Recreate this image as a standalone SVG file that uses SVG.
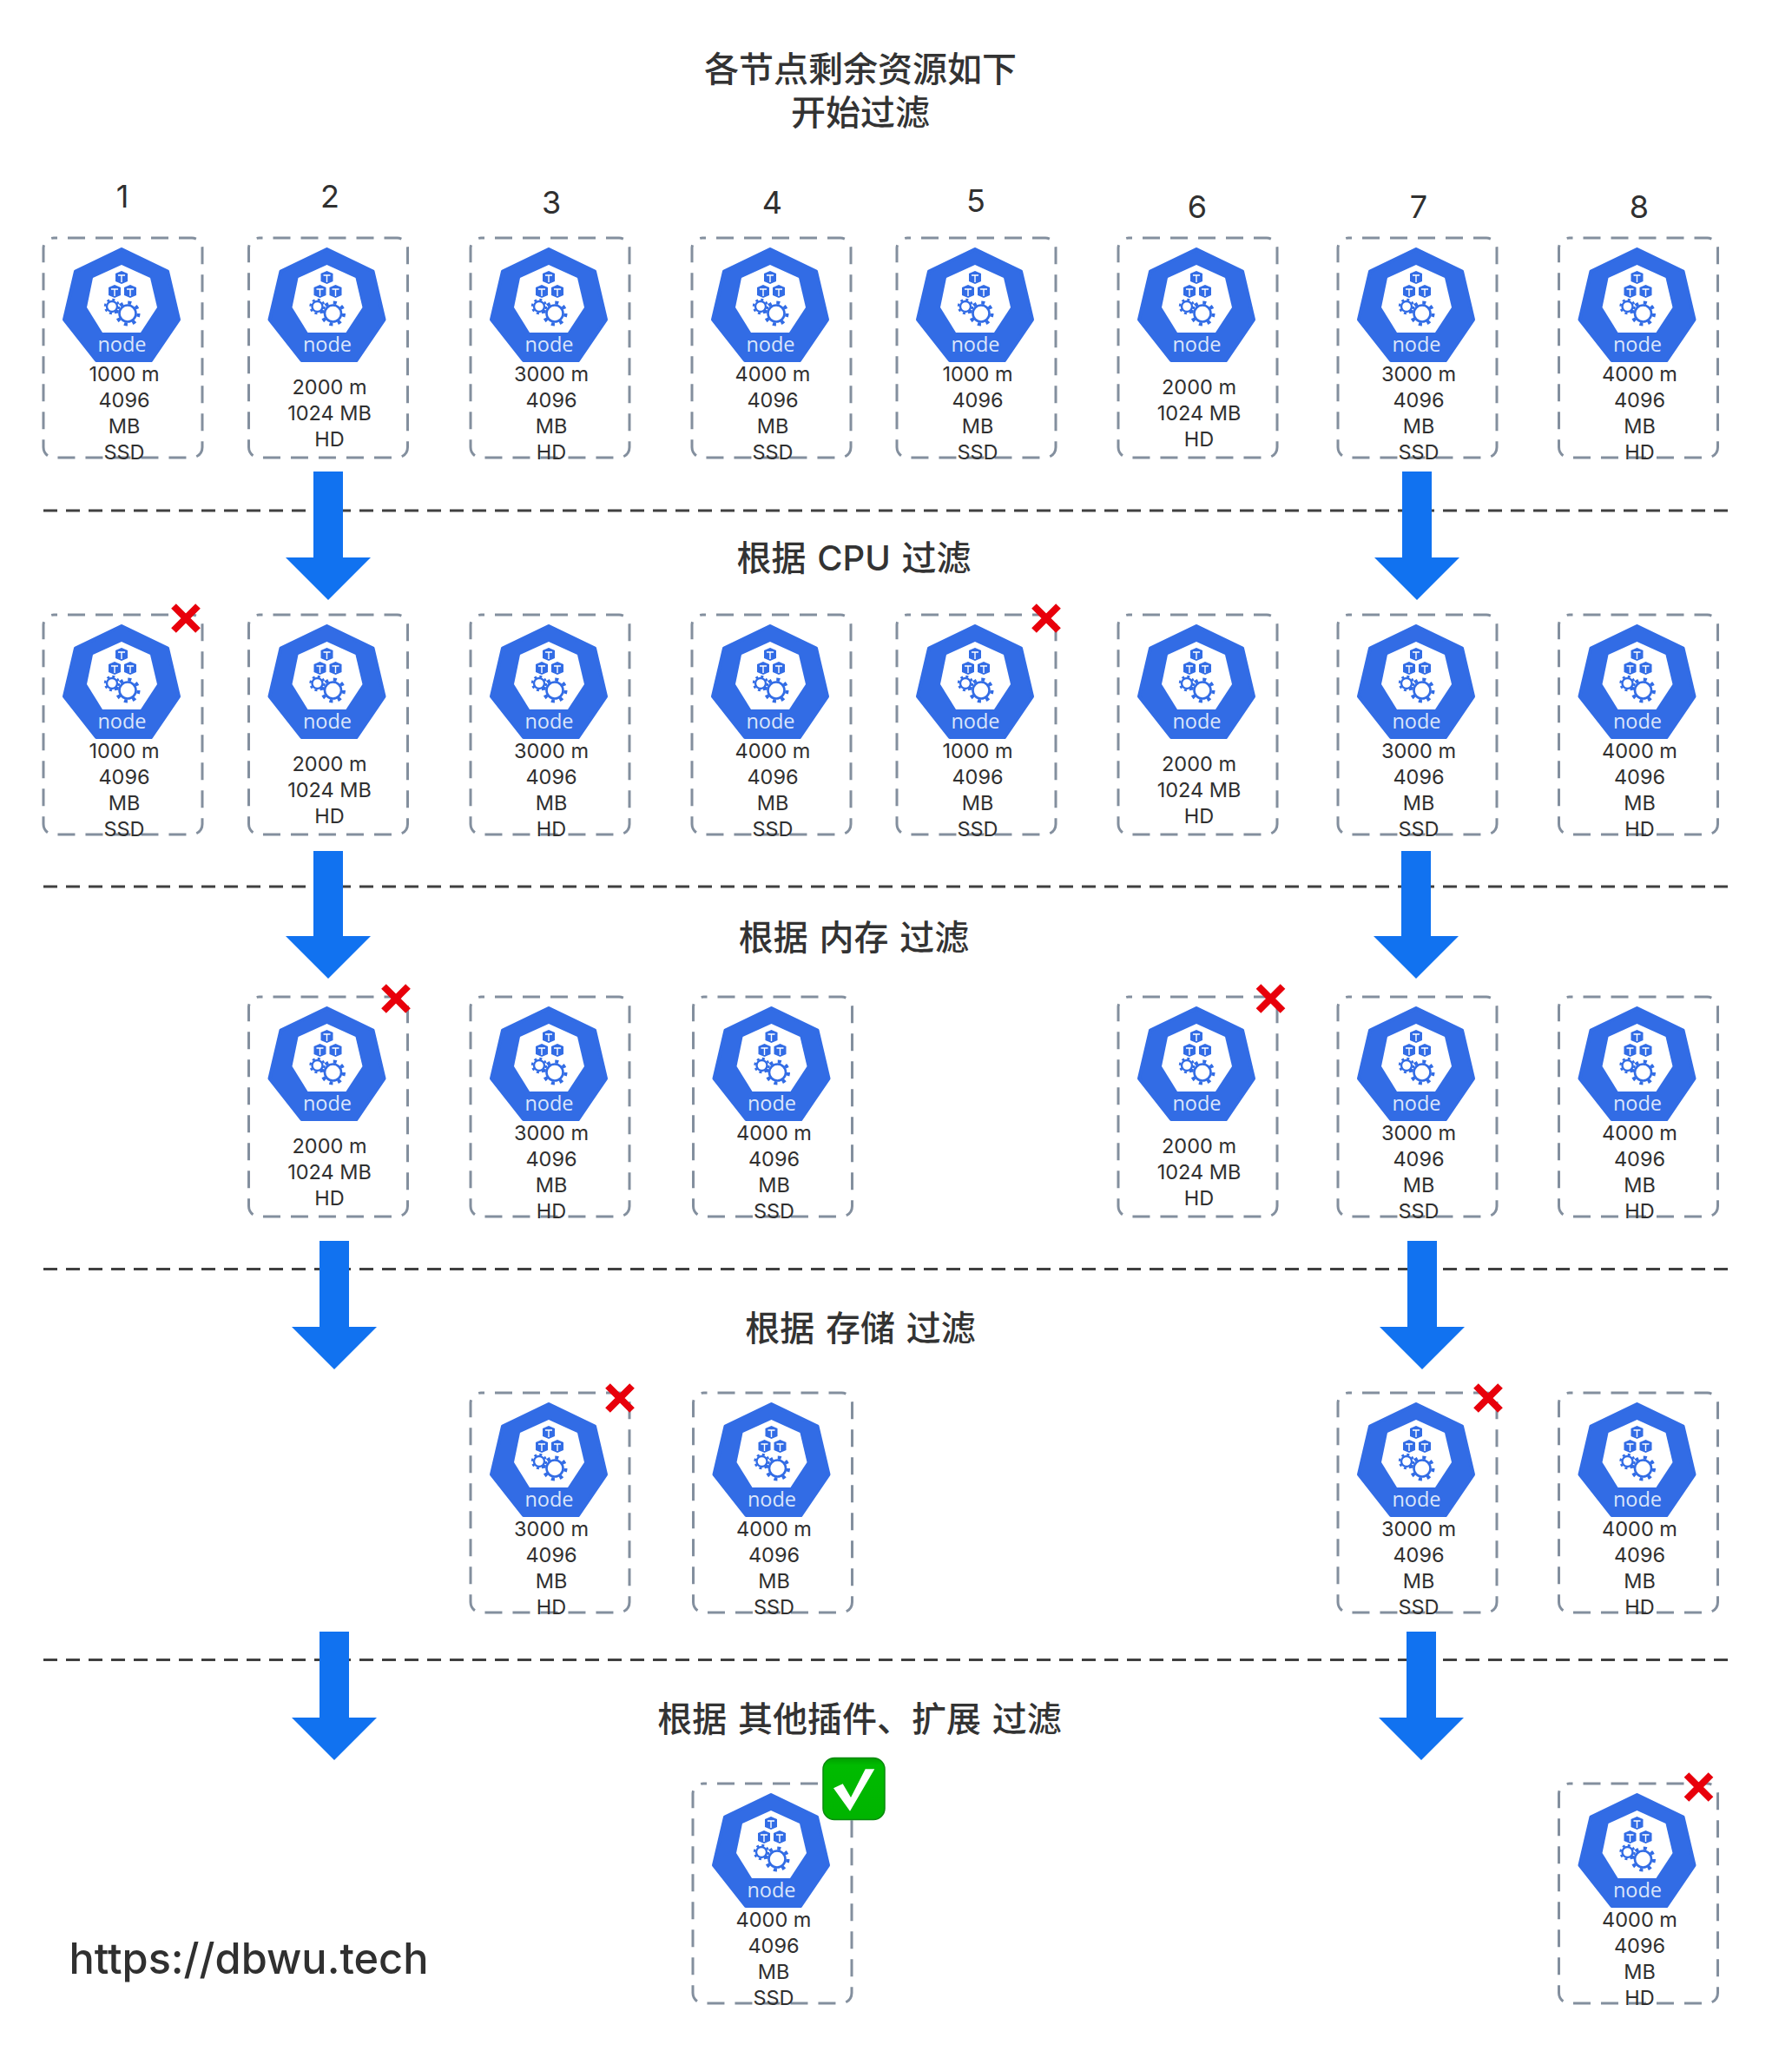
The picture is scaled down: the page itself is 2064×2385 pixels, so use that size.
<svg xmlns="http://www.w3.org/2000/svg" width="2064" height="2385" viewBox="0 0 2064 2385">
<style>
text{font-family:"Inter","Liberation Sans","Noto Sans CJK SC",sans-serif;fill:#303030;text-anchor:middle}
.box{fill:none;stroke:#838f9e;stroke-width:3;stroke-dasharray:20 12;stroke-dashoffset:16}
.t{font-size:23.5px}
.ic{font-family:"Open Sans",sans-serif;font-size:23.5px;fill:#dbe6fb}
.n{font-size:36px}
.h{font-size:40px;font-family:"Inter","Noto Sans CJK SC Medium","Noto Sans CJK SC",sans-serif;font-weight:500;fill:#333}
.sep{fill:none;stroke:#404040;stroke-width:3;stroke-dasharray:16 10}
.arr{fill:#1172f0}
.x{fill:none;stroke:#e8000b;stroke-width:8}
</style>
<defs>
<linearGradient id="ok" x1="0" y1="0" x2="0" y2="1"><stop offset="0" stop-color="#00a000"/><stop offset="0.12" stop-color="#00bb00"/><stop offset="1" stop-color="#00b400"/></linearGradient>
<g id="icon">
<polygon points="90,13 143,38.5 156,94 124,141 61,141 24,94 37,38.5" fill="#326ce5" stroke="#326ce5" stroke-width="4" stroke-linejoin="round"/>
<polygon points="90,31 123,46 131,80 112,109 68,109 50,80 57,46" fill="#fff"/>
<g fill="#326ce5">
<polygon points="90,38 97,41 97,50 90,53 83,50 83,41"/>
<polygon points="82,54 89,57 89,66 82,69 75,66 75,57"/>
<polygon points="100,54 107,57 107,66 100,69 93,66 93,57"/>
</g>
<path d="M86 43h8M90 43v8M78 59h8M82 59v8M96 59h8M100 59v8" stroke="#fff" stroke-width="1.4" fill="none"/>
<circle cx="79" cy="79" r="6" fill="#fff" stroke="#326ce5" stroke-width="2.4"/>
<circle cx="79" cy="79" r="8" fill="none" stroke="#326ce5" stroke-width="2.4" stroke-dasharray="3 3.3"/>
<circle cx="97" cy="87" r="9.5" fill="#fff" stroke="#326ce5" stroke-width="2.6"/>
<circle cx="97" cy="87" r="12.5" fill="none" stroke="#326ce5" stroke-width="4" stroke-dasharray="4 5.8"/>
</g>
<g id="xm"><path class="x" d="M-14,-14L14,14M14,-14L-14,14"/></g>
</defs>
<rect width="2064" height="2385" fill="#fff"/>
<g id="headings">
<text class="h" x="991" y="94">各节点剩余资源如下</text>
<text class="h" x="991" y="144">开始过滤</text>
<text class="n" x="141" y="239">1</text>
<text class="n" x="380" y="239">2</text>
<text class="n" x="635" y="246">3</text>
<text class="n" x="889.5" y="246">4</text>
<text class="n" x="1124" y="243.5">5</text>
<text class="n" x="1379" y="251">6</text>
<text class="n" x="1634" y="251">7</text>
<text class="n" x="1888" y="251">8</text>
<text class="h" x="983.5" y="657" style="word-spacing:2px">根据 CPU 过滤</text>
<text class="h" x="983.5" y="1094" style="word-spacing:2px">根据 内存 过滤</text>
<text class="h" x="991" y="1544" style="word-spacing:2px">根据 存储 过滤</text>
<text class="h" x="990" y="1994" style="word-spacing:2px">根据 其他插件、扩展 过滤</text>
<text x="286.5" y="2272.5" style="font-size:48.7px;font-weight:500">https://dbwu.tech</text>
</g>
<g id="connectors">
<path class="sep" d="M50 588H1992"/>
<path class="sep" d="M50 1021H1992"/>
<path class="sep" d="M50 1461.5H1992"/>
<path class="sep" d="M50 1911.5H1992"/>
<polygon class="arr" points="361,543 395,543 395,642 427,642 378,691 329,642 361,642"/>
<polygon class="arr" points="1615,543 1649,543 1649,642 1681,642 1632,691 1583,642 1615,642"/>
<polygon class="arr" points="361,980 395,980 395,1078 427,1078 378,1127 329,1078 361,1078"/>
<polygon class="arr" points="1614,980 1648,980 1648,1078 1680,1078 1631,1127 1582,1078 1614,1078"/>
<polygon class="arr" points="368,1429 402,1429 402,1528 434,1528 385,1577 336,1528 368,1528"/>
<polygon class="arr" points="1621,1429 1655,1429 1655,1528 1687,1528 1638,1577 1589,1528 1621,1528"/>
<polygon class="arr" points="368,1879 402,1879 402,1978 434,1978 385,2027 336,1978 368,1978"/>
<polygon class="arr" points="1620,1879 1654,1879 1654,1978 1686,1978 1637,2027 1588,1978 1620,1978"/>
</g>
<g id="r1n1" transform="translate(50,274)"><rect class="box" width="183" height="253" rx="12"/><use href="#icon"/><text class="ic" x="90.5" y="131">node</text><text class="t" x="93" y="165">1000 m</text><text class="t" x="93" y="195">4096</text><text class="t" x="93" y="225">MB</text><text class="t" x="93" y="255">SSD</text></g>
<g id="r1n2" transform="translate(286.5,274)"><rect class="box" width="183" height="253" rx="12"/><use href="#icon"/><text class="ic" x="90.5" y="131">node</text><text class="t" x="93" y="180">2000 m</text><text class="t" x="93" y="210">1024 MB</text><text class="t" x="93" y="240">HD</text></g>
<g id="r1n3" transform="translate(542,274)"><rect class="box" width="183" height="253" rx="12"/><use href="#icon"/><text class="ic" x="90.5" y="131">node</text><text class="t" x="93" y="165">3000 m</text><text class="t" x="93" y="195">4096</text><text class="t" x="93" y="225">MB</text><text class="t" x="93" y="255">HD</text></g>
<g id="r1n4" transform="translate(797,274)"><rect class="box" width="183" height="253" rx="12"/><use href="#icon"/><text class="ic" x="90.5" y="131">node</text><text class="t" x="93" y="165">4000 m</text><text class="t" x="93" y="195">4096</text><text class="t" x="93" y="225">MB</text><text class="t" x="93" y="255">SSD</text></g>
<g id="r1n5" transform="translate(1033,274)"><rect class="box" width="183" height="253" rx="12"/><use href="#icon"/><text class="ic" x="90.5" y="131">node</text><text class="t" x="93" y="165">1000 m</text><text class="t" x="93" y="195">4096</text><text class="t" x="93" y="225">MB</text><text class="t" x="93" y="255">SSD</text></g>
<g id="r1n6" transform="translate(1288,274)"><rect class="box" width="183" height="253" rx="12"/><use href="#icon"/><text class="ic" x="90.5" y="131">node</text><text class="t" x="93" y="180">2000 m</text><text class="t" x="93" y="210">1024 MB</text><text class="t" x="93" y="240">HD</text></g>
<g id="r1n7" transform="translate(1541,274)"><rect class="box" width="183" height="253" rx="12"/><use href="#icon"/><text class="ic" x="90.5" y="131">node</text><text class="t" x="93" y="165">3000 m</text><text class="t" x="93" y="195">4096</text><text class="t" x="93" y="225">MB</text><text class="t" x="93" y="255">SSD</text></g>
<g id="r1n8" transform="translate(1795.5,274)"><rect class="box" width="183" height="253" rx="12"/><use href="#icon"/><text class="ic" x="90.5" y="131">node</text><text class="t" x="93" y="165">4000 m</text><text class="t" x="93" y="195">4096</text><text class="t" x="93" y="225">MB</text><text class="t" x="93" y="255">HD</text></g>

<g id="r2n1" transform="translate(50,708)"><rect class="box" width="183" height="253" rx="12"/><use href="#icon"/><text class="ic" x="90.5" y="131">node</text><text class="t" x="93" y="165">1000 m</text><text class="t" x="93" y="195">4096</text><text class="t" x="93" y="225">MB</text><text class="t" x="93" y="255">SSD</text><use href="#xm" x="164" y="4"/></g>
<g id="r2n2" transform="translate(286.5,708)"><rect class="box" width="183" height="253" rx="12"/><use href="#icon"/><text class="ic" x="90.5" y="131">node</text><text class="t" x="93" y="180">2000 m</text><text class="t" x="93" y="210">1024 MB</text><text class="t" x="93" y="240">HD</text></g>
<g id="r2n3" transform="translate(542,708)"><rect class="box" width="183" height="253" rx="12"/><use href="#icon"/><text class="ic" x="90.5" y="131">node</text><text class="t" x="93" y="165">3000 m</text><text class="t" x="93" y="195">4096</text><text class="t" x="93" y="225">MB</text><text class="t" x="93" y="255">HD</text></g>
<g id="r2n4" transform="translate(797,708)"><rect class="box" width="183" height="253" rx="12"/><use href="#icon"/><text class="ic" x="90.5" y="131">node</text><text class="t" x="93" y="165">4000 m</text><text class="t" x="93" y="195">4096</text><text class="t" x="93" y="225">MB</text><text class="t" x="93" y="255">SSD</text></g>
<g id="r2n5" transform="translate(1033,708)"><rect class="box" width="183" height="253" rx="12"/><use href="#icon"/><text class="ic" x="90.5" y="131">node</text><text class="t" x="93" y="165">1000 m</text><text class="t" x="93" y="195">4096</text><text class="t" x="93" y="225">MB</text><text class="t" x="93" y="255">SSD</text><use href="#xm" x="172" y="4"/></g>
<g id="r2n6" transform="translate(1288,708)"><rect class="box" width="183" height="253" rx="12"/><use href="#icon"/><text class="ic" x="90.5" y="131">node</text><text class="t" x="93" y="180">2000 m</text><text class="t" x="93" y="210">1024 MB</text><text class="t" x="93" y="240">HD</text></g>
<g id="r2n7" transform="translate(1541,708)"><rect class="box" width="183" height="253" rx="12"/><use href="#icon"/><text class="ic" x="90.5" y="131">node</text><text class="t" x="93" y="165">3000 m</text><text class="t" x="93" y="195">4096</text><text class="t" x="93" y="225">MB</text><text class="t" x="93" y="255">SSD</text></g>
<g id="r2n8" transform="translate(1795.5,708)"><rect class="box" width="183" height="253" rx="12"/><use href="#icon"/><text class="ic" x="90.5" y="131">node</text><text class="t" x="93" y="165">4000 m</text><text class="t" x="93" y="195">4096</text><text class="t" x="93" y="225">MB</text><text class="t" x="93" y="255">HD</text></g>

<g id="r3n2" transform="translate(286.5,1148)"><rect class="box" width="183" height="253" rx="12"/><use href="#icon"/><text class="ic" x="90.5" y="131">node</text><text class="t" x="93" y="180">2000 m</text><text class="t" x="93" y="210">1024 MB</text><text class="t" x="93" y="240">HD</text><use href="#xm" x="169.5" y="2"/></g>
<g id="r3n3" transform="translate(542,1148)"><rect class="box" width="183" height="253" rx="12"/><use href="#icon"/><text class="ic" x="90.5" y="131">node</text><text class="t" x="93" y="165">3000 m</text><text class="t" x="93" y="195">4096</text><text class="t" x="93" y="225">MB</text><text class="t" x="93" y="255">HD</text></g>
<g id="r3n4" transform="translate(798.5,1148)"><rect class="box" width="183" height="253" rx="12"/><use href="#icon"/><text class="ic" x="90.5" y="131">node</text><text class="t" x="93" y="165">4000 m</text><text class="t" x="93" y="195">4096</text><text class="t" x="93" y="225">MB</text><text class="t" x="93" y="255">SSD</text></g>
<g id="r3n6" transform="translate(1288,1148)"><rect class="box" width="183" height="253" rx="12"/><use href="#icon"/><text class="ic" x="90.5" y="131">node</text><text class="t" x="93" y="180">2000 m</text><text class="t" x="93" y="210">1024 MB</text><text class="t" x="93" y="240">HD</text><use href="#xm" x="175.5" y="2"/></g>
<g id="r3n7" transform="translate(1541,1148)"><rect class="box" width="183" height="253" rx="12"/><use href="#icon"/><text class="ic" x="90.5" y="131">node</text><text class="t" x="93" y="165">3000 m</text><text class="t" x="93" y="195">4096</text><text class="t" x="93" y="225">MB</text><text class="t" x="93" y="255">SSD</text></g>
<g id="r3n8" transform="translate(1795.5,1148)"><rect class="box" width="183" height="253" rx="12"/><use href="#icon"/><text class="ic" x="90.5" y="131">node</text><text class="t" x="93" y="165">4000 m</text><text class="t" x="93" y="195">4096</text><text class="t" x="93" y="225">MB</text><text class="t" x="93" y="255">HD</text></g>

<g id="r4n3" transform="translate(542,1604)"><rect class="box" width="183" height="253" rx="12"/><use href="#icon"/><text class="ic" x="90.5" y="131">node</text><text class="t" x="93" y="165">3000 m</text><text class="t" x="93" y="195">4096</text><text class="t" x="93" y="225">MB</text><text class="t" x="93" y="255">HD</text><use href="#xm" x="172" y="6"/></g>
<g id="r4n4" transform="translate(798.5,1604)"><rect class="box" width="183" height="253" rx="12"/><use href="#icon"/><text class="ic" x="90.5" y="131">node</text><text class="t" x="93" y="165">4000 m</text><text class="t" x="93" y="195">4096</text><text class="t" x="93" y="225">MB</text><text class="t" x="93" y="255">SSD</text></g>
<g id="r4n7" transform="translate(1541,1604)"><rect class="box" width="183" height="253" rx="12"/><use href="#icon"/><text class="ic" x="90.5" y="131">node</text><text class="t" x="93" y="165">3000 m</text><text class="t" x="93" y="195">4096</text><text class="t" x="93" y="225">MB</text><text class="t" x="93" y="255">SSD</text><use href="#xm" x="173" y="6"/></g>
<g id="r4n8" transform="translate(1795.5,1604)"><rect class="box" width="183" height="253" rx="12"/><use href="#icon"/><text class="ic" x="90.5" y="131">node</text><text class="t" x="93" y="165">4000 m</text><text class="t" x="93" y="195">4096</text><text class="t" x="93" y="225">MB</text><text class="t" x="93" y="255">HD</text></g>

<g id="r5n4" transform="translate(798,2054)"><rect class="box" width="183" height="253" rx="12"/><use href="#icon"/><text class="ic" x="90.5" y="131">node</text><text class="t" x="93" y="165">4000 m</text><text class="t" x="93" y="195">4096</text><text class="t" x="93" y="225">MB</text><text class="t" x="93" y="255">SSD</text>
<rect x="150" y="-29.5" width="71" height="71" rx="13" fill="url(#ok)" stroke="#0a8a0e" stroke-width="1.5"/><polygon points="162,5.3 172.7,0.3 182,16 198.7,-16.7 209.3,-16.7 181,31.7" fill="#fff"/></g>
<g id="r5n8" transform="translate(1795.5,2054)"><rect class="box" width="183" height="253" rx="12"/><use href="#icon"/><text class="ic" x="90.5" y="131">node</text><text class="t" x="93" y="165">4000 m</text><text class="t" x="93" y="195">4096</text><text class="t" x="93" y="225">MB</text><text class="t" x="93" y="255">HD</text><use href="#xm" x="161" y="4"/></g>
</svg>
